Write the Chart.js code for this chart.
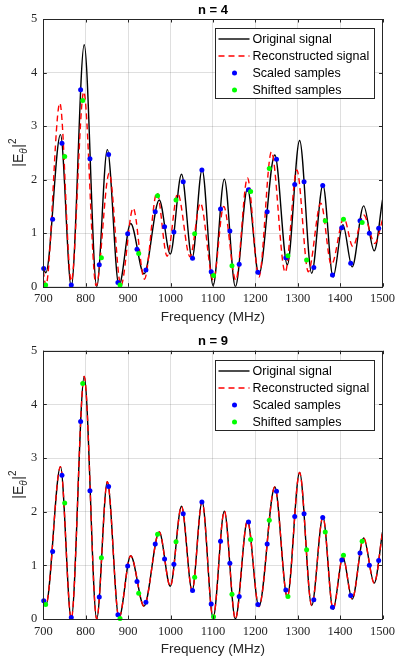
<!DOCTYPE html>
<html><head><meta charset="utf-8">
<script src="https://cdn.jsdelivr.net/npm/chart.js@4.4.0/dist/chart.umd.min.js"></script>
<style>
html,body{margin:0;padding:0;background:#fff;width:400px;height:660px;overflow:hidden}
.wrap{position:absolute;left:0;width:400px;height:330px}
canvas{display:block}
</style></head><body>
<div class="wrap" style="top:0"><canvas id="c4" width="400" height="330"></canvas></div>
<div class="wrap" style="top:330px"><canvas id="c9" width="400" height="330"></canvas></div>
<script>
// ---- tick labels ----
const xTicks = [700, 800, 900, 1000, 1100, 1200, 1300, 1400, 1500];
const yTicks = [0, 1, 2, 3, 4, 5];

// ---- original signal (both panels) ----
const origF = [700, 706, 740.5, 766, 796.5, 826, 851, 878.5, 906, 937.5, 973.5, 999.5, 1026, 1051, 1074.5, 1100.5, 1127, 1153, 1181.5, 1208.5, 1246, 1275.5, 1304.5, 1333, 1359.5, 1383.5, 1406.5, 1428.5, 1455.5, 1480.5, 1500];
const origV = [0.34, 0.26, 2.84, 0.00, 4.52, 0.00, 2.56, 0.02, 1.18, 0.24, 1.62, 0.61, 2.10, 0.53, 2.19, 0.02, 2.01, 0.00, 1.83, 0.23, 2.46, 0.41, 2.73, 0.25, 1.90, 0.18, 1.16, 0.37, 1.51, 0.67, 1.62];

// ---- reconstructed signal, n = 4 ----
const recon4F = [700, 706, 739, 766, 795.5, 824.5, 855.5, 883, 912, 938.5, 968, 992, 1017, 1046, 1070.5, 1101, 1125.5, 1154, 1181.5, 1208.5, 1238, 1270.5, 1298, 1325, 1354.5, 1379.5, 1409, 1430, 1455.5, 1482, 1500];
const recon4V = [0.30, 0.02, 3.43, 0.10, 3.64, 0.02, 2.12, 0.02, 1.47, 0.14, 1.76, 0.57, 1.74, 0.56, 1.56, 0.12, 1.50, 0.12, 2.03, 0.18, 2.52, 0.27, 2.18, 0.28, 1.56, 0.41, 1.28, 0.75, 1.34, 0.81, 1.25];

// ---- reconstructed signal, n = 9 (coincides with the original) ----
const recon9F = origF;
const recon9V = origV;

// ---- scaled samples (both panels) ----
const scaledF = [701, 722, 744, 766, 788, 810, 832, 854, 876, 899, 921, 942, 964, 986, 1008, 1030, 1052, 1074, 1096, 1118, 1140, 1162, 1184, 1206, 1228, 1250, 1272, 1293, 1315, 1338, 1359, 1382, 1404, 1425, 1447, 1469, 1491];
const scaledV = [0.34, 1.26, 2.68, 0.03, 3.68, 2.39, 0.41, 2.47, 0.08, 0.99, 0.70, 0.31, 1.40, 1.12, 1.02, 1.96, 0.53, 2.18, 0.28, 1.45, 1.04, 0.42, 1.81, 0.27, 1.40, 2.38, 0.54, 1.91, 1.96, 0.36, 1.89, 0.22, 1.10, 0.44, 1.23, 1.00, 1.09];

// ---- shifted samples ----
const shiftedF = [705.5, 750.5, 793, 837, 881, 925, 969.5, 1013, 1057, 1101.5, 1145, 1189, 1233, 1277, 1321, 1365, 1408, 1452];
const shifted4V = [0.03, 2.43, 3.48, 0.54, 0.03, 0.62, 1.70, 1.62, 0.99, 0.21, 0.39, 1.78, 2.21, 0.58, 0.50, 1.23, 1.26, 1.20];
const shifted9V = [0.27, 2.16, 4.39, 1.14, 0.01, 0.48, 1.58, 1.44, 0.78, 0.04, 0.46, 1.48, 1.84, 0.42, 1.29, 1.62, 1.19, 1.45];

const pts = (xs, ys) => xs.map((x, i) => ({ x: x, y: ys[i] }));

const AX = '#262626';
const GRID = 'rgba(38,38,38,0.15)';
const SANS = '"Liberation Sans", Arial, sans-serif';
const SERIF = '"Liberation Serif", "Times New Roman", serif';

const matlabPlugin = {
  id: 'matlab',
  afterDraw(chart, args, opts) {
    const ctx = chart.ctx;
    const a = chart.chartArea;
    const xs = chart.scales.x, ys = chart.scales.y;
    ctx.save();
    // inward ticks
    ctx.strokeStyle = AX; ctx.lineWidth = 1;
    ctx.beginPath();
    const tl = 3.5;
    xTicks.forEach(v => {
      const px = Math.round(xs.getPixelForValue(v)) + 0.5;
      ctx.moveTo(px, a.bottom); ctx.lineTo(px, a.bottom - tl);
      ctx.moveTo(px, a.top); ctx.lineTo(px, a.top + tl);
    });
    yTicks.forEach(v => {
      const py = Math.round(ys.getPixelForValue(v)) + 0.5;
      ctx.moveTo(a.left, py); ctx.lineTo(a.left + tl, py);
      ctx.moveTo(a.right, py); ctx.lineTo(a.right - tl, py);
    });
    ctx.stroke();
    // box
    ctx.strokeRect(Math.round(a.left) + 0.5, Math.round(a.top) + 0.5, Math.round(a.right - a.left), Math.round(a.bottom - a.top));

    // title
    ctx.fillStyle = '#000';
    ctx.font = 'bold 13px ' + SANS;
    ctx.textAlign = 'center'; ctx.textBaseline = 'middle';
    ctx.fillText(opts.title, (a.left + a.right) / 2, a.top - 9);

    // x label
    ctx.fillStyle = AX;
    ctx.font = '13.5px ' + SANS;
    ctx.fillText('Frequency (MHz)', (a.left + a.right) / 2, a.bottom + 30.5);

    // y label |E_θ|^2
    ctx.save();
    ctx.translate(23, (a.top + a.bottom) / 2);
    ctx.rotate(-Math.PI / 2);
    const big = '14px ' + SANS, small = '10px ' + SANS, smallIt = 'italic 10px ' + SANS;
    ctx.font = big; const w1 = ctx.measureText('|E').width, w3 = ctx.measureText('|').width;
    ctx.font = smallIt; const w2 = ctx.measureText('\u03B8').width;
    ctx.font = small; const w4 = ctx.measureText('2').width;
    let px = -(w1 + w2 + w3 + w4) / 2;
    ctx.textAlign = 'left'; ctx.textBaseline = 'alphabetic';
    ctx.font = big; ctx.fillText('|E', px, 0); px += w1;
    ctx.font = smallIt; ctx.fillText('\u03B8', px, 3.5); px += w2 + 0.5;
    ctx.font = big; ctx.fillText('|', px, 0); px += w3;
    ctx.font = small; ctx.fillText('2', px, -7.5);
    ctx.restore();

    // legend
    const bw = 158.7, bh = 70.3;
    const bx = Math.round(a.right - 9 - bw) + 0.5, by = Math.round(a.top + 9) + 0.5;
    ctx.fillStyle = '#fff';
    ctx.fillRect(bx, by, bw, bh);
    ctx.strokeStyle = AX; ctx.lineWidth = 1;
    ctx.strokeRect(bx, by, Math.round(bw), Math.round(bh));
    ctx.font = '12.5px ' + SANS;
    ctx.textAlign = 'left'; ctx.textBaseline = 'middle';
    chart.data.datasets.forEach((ds, i) => {
      const cy = by + 10.5 + 17 * i;
      if (ds.showLine) {
        ctx.save();
        ctx.strokeStyle = ds.borderColor; ctx.lineWidth = ds.borderWidth;
        ctx.setLineDash(ds.borderDash || []);
        ctx.beginPath(); ctx.moveTo(bx + 3, cy); ctx.lineTo(bx + 34, cy); ctx.stroke();
        ctx.restore();
      } else {
        ctx.fillStyle = ds.backgroundColor;
        ctx.beginPath(); ctx.arc(bx + 19, cy, ds.pointRadius, 0, Math.PI * 2); ctx.fill();
      }
      ctx.fillStyle = '#000';
      ctx.fillText(ds.label, bx + 37, cy + 0.5);
    });
    ctx.restore();
  }
};

function makeChart(id, title, padTop, xAxisH, reconF, reconV, shiftV) {
  const datasets = [
    { label: 'Original signal', data: pts(origF, origV), showLine: true, borderColor: '#000000', borderWidth: 1.4,
      pointRadius: 0, cubicInterpolationMode: 'monotone', fill: false, order: 4 },
    { label: 'Reconstructed signal', data: pts(reconF, reconV), showLine: true, borderColor: '#ff0000', borderWidth: 1.4,
      borderDash: [6, 4], pointRadius: 0, cubicInterpolationMode: 'monotone', fill: false, order: 3 },
    { label: 'Scaled samples', data: pts(scaledF, scaledV), showLine: false, backgroundColor: '#0000ff', borderColor: '#0000ff',
      pointRadius: 2.5, pointBorderWidth: 0, clip: false, order: 2 },
    { label: 'Shifted samples', data: pts(shiftedF, shiftV), showLine: false, backgroundColor: '#00ff00', borderColor: '#00ff00',
      pointRadius: 2.5, pointBorderWidth: 0, clip: false, order: 1 }
  ];
  return new Chart(document.getElementById(id), {
    type: 'scatter',
    data: { datasets },
    options: {
      responsive: false, animation: false, devicePixelRatio: 1,
      layout: { padding: { top: padTop, right: 13.3, left: 0, bottom: 0 } },
      plugins: { legend: { display: false }, tooltip: { enabled: false }, matlab: { title: title } },
      scales: {
        x: {
          type: 'linear', min: 700, max: 1500,
          afterBuildTicks: s => { s.ticks = xTicks.map(v => ({ value: v })); },
          afterFit: s => { s.height = xAxisH; },
          grid: { color: GRID, drawTicks: false, lineWidth: 1 },
          border: { display: false },
          ticks: { padding: 5, color: AX, font: { family: SERIF, size: 12.5 }, maxRotation: 0, autoSkip: false,
                   callback: v => String(v) }
        },
        y: {
          type: 'linear', min: 0, max: 5,
          afterBuildTicks: s => { s.ticks = yTicks.map(v => ({ value: v })); },
          afterFit: s => { s.width = 43.3; },
          grid: { color: GRID, drawTicks: false, lineWidth: 1 },
          border: { display: false },
          ticks: { padding: 6, color: AX, font: { family: SERIF, size: 12.5 }, callback: v => String(v) }
        }
      }
    },
    plugins: [matlabPlugin]
  });
}

makeChart('c4', 'n = 4', 19, 43.3, recon4F, recon4V, shifted4V);
makeChart('c9', 'n = 9', 20.7, 41, recon9F, recon9V, shifted9V);
</script>
</body></html>
